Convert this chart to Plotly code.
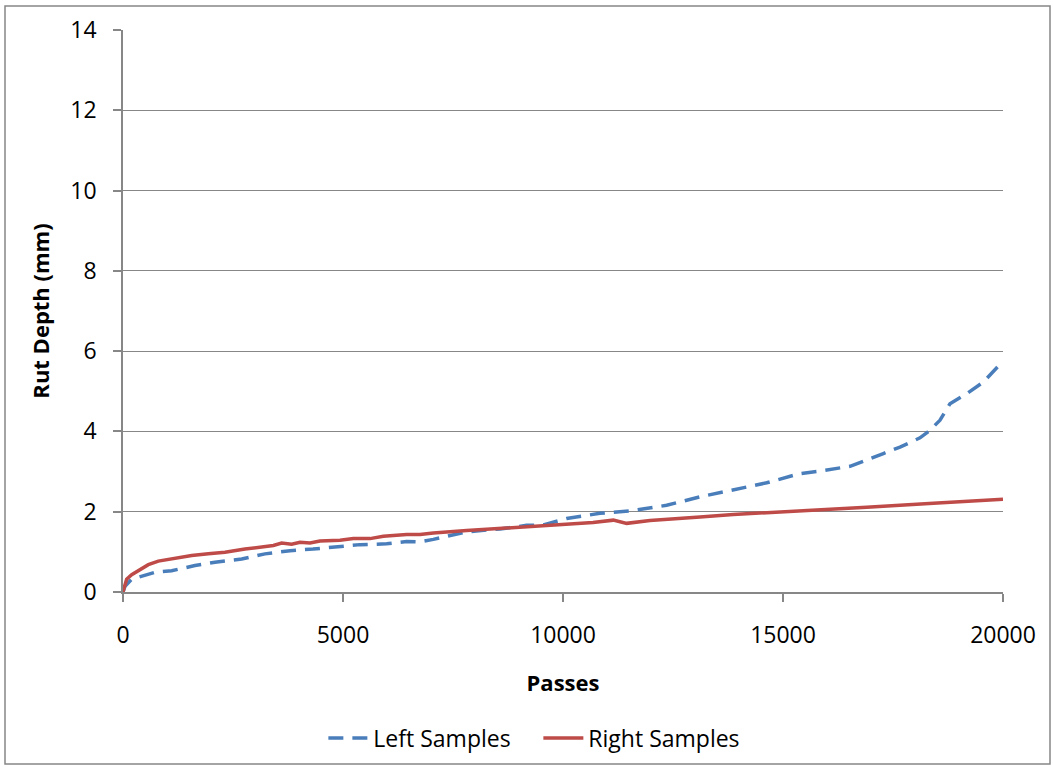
import plotly.graph_objects as go

left_x = [0, 45, 197, 424, 727, 1106, 1636, 2091, 2697, 3227, 3795, 4318, 4932, 5386, 5992, 6447, 6750,
          7053, 7811, 8568, 9174, 9553, 10083, 10841, 11598, 12356, 13114, 13871, 14629, 15386, 15765, 16523,
          16902, 17280, 17659, 18114, 18341, 18568, 18795, 19174, 19553, 19856, 20000]
left_y = [0, 0.14, 0.32, 0.40, 0.49, 0.53, 0.66, 0.74, 0.82, 0.95, 1.03, 1.07, 1.14, 1.18, 1.20, 1.26, 1.25,
          1.31, 1.50, 1.57, 1.66, 1.67, 1.83, 1.96, 2.03, 2.16, 2.37, 2.54, 2.72, 2.95, 3.00, 3.13,
          3.28, 3.45, 3.61, 3.84, 4.03, 4.28, 4.69, 4.94, 5.23, 5.60, 5.75]

right_x = [0, 83, 197, 348, 576, 803, 1106, 1561, 1939, 2318, 2773, 3114, 3417, 3606, 3833, 4023, 4250, 4477,
           4932, 5235, 5614, 5917, 6447, 6750, 7053, 7811, 8568, 9326,
           10083, 10682, 11144, 11447, 11977, 12735, 13114, 13871, 15386, 16902, 18417, 19932, 20000]
right_y = [0, 0.32, 0.43, 0.53, 0.68, 0.77, 0.82, 0.91, 0.95, 0.99, 1.07, 1.12, 1.16, 1.22, 1.19, 1.24, 1.22, 1.27,
           1.29, 1.33, 1.33, 1.39, 1.43, 1.43, 1.47, 1.53, 1.58, 1.62,
           1.67, 1.73, 1.79, 1.71, 1.78, 1.85, 1.87, 1.93, 2.01, 2.11, 2.21, 2.31, 2.31]

font = "Open Sans, Liberation Sans, sans-serif"

fig = go.Figure()
fig.add_trace(go.Scatter(x=left_x, y=left_y, mode="lines", name="Left Samples",
                         line=dict(color="#4a7ebb", width=3.5, dash="15px,9px")))
fig.add_trace(go.Scatter(x=right_x, y=right_y, mode="lines", name="Right Samples",
                         line=dict(color="#be4b48", width=3.5)))

fig.update_layout(
    width=1053, height=767,
    margin=dict(l=123, r=50, t=30, b=175, autoexpand=False),
    paper_bgcolor="white", plot_bgcolor="white",
    font=dict(family=font, size=23, color="black"),
    showlegend=True,
    legend=dict(orientation="h", x=0.472, xanchor="center", y=-0.26, yanchor="middle",
                font=dict(size=23), itemwidth=40, tracegroupgap=0,
                entrywidth=160, entrywidthmode="pixels"),
    shapes=[dict(type="rect", xref="paper", yref="paper",
                 x0=-118/880, x1=1 + 47/880, y0=-172/562, y1=1 + 24/562,
                 line=dict(color="#878787", width=1.5), fillcolor="rgba(0,0,0,0)", layer="below")],
)
fig.update_xaxes(range=[0, 20000], tickvals=[0, 5000, 10000, 15000, 20000],
                 ticktext=["0", "5000", "10000", "15000", "20000"], automargin=False,
                 showgrid=False, zeroline=False, showline=True, linecolor="#878787", linewidth=1.5,
                 ticks="outside", ticklen=8, tickcolor="#878787", tickwidth=1.5,
                 tickfont=dict(size=23), ticklabelstandoff=14,
                 title=dict(text="<b>Passes</b>", font=dict(size=22), standoff=26))
fig.update_yaxes(range=[0, 14], tickvals=[0, 2, 4, 6, 8, 10, 12, 14], automargin=False,
                 showgrid=True, gridcolor="#878787", gridwidth=1.2, zeroline=False,
                 showline=True, linecolor="#878787", linewidth=1.5,
                 ticks="outside", ticklen=8, tickcolor="#878787", tickwidth=1.5,
                 tickfont=dict(size=23), ticklabelstandoff=12,
                 title=dict(text="<b>Rut Depth (mm)</b>", font=dict(size=22), standoff=15))

fig.write_html("out.html")
